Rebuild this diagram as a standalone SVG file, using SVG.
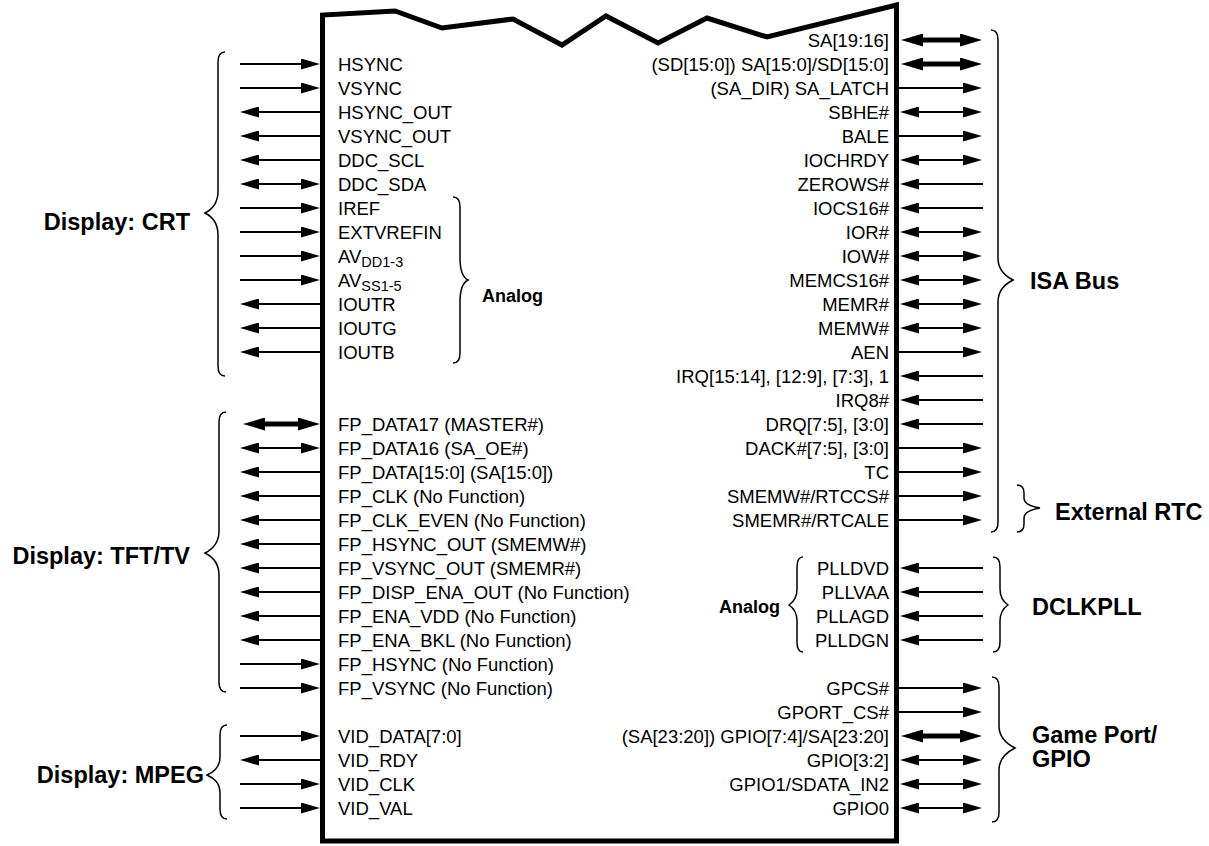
<svg xmlns="http://www.w3.org/2000/svg" width="1209" height="846" viewBox="0 0 1209 846">
<style>
text{font-family:"Liberation Sans",Arial,sans-serif;fill:#000}
.p{font-size:18.5px}
.r{text-anchor:end}
.b{font-size:23.5px;font-weight:bold}
.ba{font-size:18px;font-weight:bold}
.c{stroke:#000;stroke-width:2;fill:none}
.e{marker-end:url(#a)}
.s{marker-start:url(#a)}
.t{stroke:#000;stroke-width:5;fill:none;marker-start:url(#A);marker-end:url(#A)}
.br{stroke:#000;stroke-width:1.5;fill:none}
</style>
<defs>
<marker id="a" markerUnits="userSpaceOnUse" markerWidth="19" markerHeight="11" refX="13" refY="5.5" orient="auto-start-reverse" viewBox="0 0 19 11"><path d="M0,0L19,5.5L0,11z" fill="#000"/></marker>
<marker id="A" markerUnits="userSpaceOnUse" markerWidth="22" markerHeight="13" refX="11" refY="6.5" orient="auto-start-reverse" viewBox="0 0 22 13"><path d="M0,0L22,6.5L0,13z" fill="#000"/></marker>
</defs>
<rect width="1209" height="846" fill="#fff"/>
<g id="chip">
<path d="M322.5,841 L322.5,15 L395,11 L442,28 L513,19 L562,45 L606,16 L658,43 L707,18 L767,37 L896.5,5 L896.5,841 Z" fill="none" stroke="#000" stroke-width="5" stroke-linejoin="miter"/>
<g class="p">
<text x="338" y="70.5">HSYNC</text>
<text x="338" y="94.5">VSYNC</text>
<text x="338" y="118.5">HSYNC_OUT</text>
<text x="338" y="142.5">VSYNC_OUT</text>
<text x="338" y="166.5">DDC_SCL</text>
<text x="338" y="190.5">DDC_SDA</text>
<text x="338" y="214.5">IREF</text>
<text x="338" y="238.5">EXTVREFIN</text>
<text x="338" y="262.5">AV<tspan font-size="14.5" dy="4">DD1-3</tspan></text>
<text x="338" y="286.5">AV<tspan font-size="14.5" dy="4">SS1-5</tspan></text>
<text x="338" y="310.5">IOUTR</text>
<text x="338" y="334.5">IOUTG</text>
<text x="338" y="358.5">IOUTB</text>
<text x="338" y="430.5">FP_DATA17 (MASTER#)</text>
<text x="338" y="454.5">FP_DATA16 (SA_OE#)</text>
<text x="338" y="478.5">FP_DATA[15:0] (SA[15:0])</text>
<text x="338" y="502.5">FP_CLK (No Function)</text>
<text x="338" y="526.5">FP_CLK_EVEN (No Function)</text>
<text x="338" y="550.5">FP_HSYNC_OUT (SMEMW#)</text>
<text x="338" y="574.5">FP_VSYNC_OUT (SMEMR#)</text>
<text x="338" y="598.5">FP_DISP_ENA_OUT (No Function)</text>
<text x="338" y="622.5">FP_ENA_VDD (No Function)</text>
<text x="338" y="646.5">FP_ENA_BKL (No Function)</text>
<text x="338" y="670.5">FP_HSYNC (No Function)</text>
<text x="338" y="694.5">FP_VSYNC (No Function)</text>
<text x="338" y="742.5">VID_DATA[7:0]</text>
<text x="338" y="766.5">VID_RDY</text>
<text x="338" y="790.5">VID_CLK</text>
<text x="338" y="814.5">VID_VAL</text>
</g>
<g class="p r">
<text x="889" y="46.5">SA[19:16]</text>
<text x="889" y="70.5">(SD[15:0]) SA[15:0]/SD[15:0]</text>
<text x="889" y="94.5">(SA_DIR) SA_LATCH</text>
<text x="889" y="118.5">SBHE#</text>
<text x="889" y="142.5">BALE</text>
<text x="889" y="166.5">IOCHRDY</text>
<text x="889" y="190.5">ZEROWS#</text>
<text x="889" y="214.5">IOCS16#</text>
<text x="889" y="238.5">IOR#</text>
<text x="889" y="262.5">IOW#</text>
<text x="889" y="286.5">MEMCS16#</text>
<text x="889" y="310.5">MEMR#</text>
<text x="889" y="334.5">MEMW#</text>
<text x="889" y="358.5">AEN</text>
<text x="889" y="382.5">IRQ[15:14], [12:9], [7:3], 1</text>
<text x="889" y="406.5">IRQ8#</text>
<text x="889" y="430.5">DRQ[7:5], [3:0]</text>
<text x="889" y="454.5">DACK#[7:5], [3:0]</text>
<text x="889" y="478.5">TC</text>
<text x="889" y="502.5">SMEMW#/RTCCS#</text>
<text x="889" y="526.5">SMEMR#/RTCALE</text>
<text x="889" y="574.5">PLLDVD</text>
<text x="889" y="598.5">PLLVAA</text>
<text x="889" y="622.5">PLLAGD</text>
<text x="889" y="646.5">PLLDGN</text>
<text x="889" y="694.5">GPCS#</text>
<text x="889" y="718.5">GPORT_CS#</text>
<text x="889" y="742.5">(SA[23:20]) GPIO[7:4]/SA[23:20]</text>
<text x="889" y="766.5">GPIO[3:2]</text>
<text x="889" y="790.5">GPIO1/SDATA_IN2</text>
<text x="889" y="814.5">GPIO0</text>
</g>
</g>
<g id="group-crt">
<path class="br" d="M225,52 Q218,52 218,62 L218,191 C218,205 209,211 205,213 C209,215 218,221 218,235 L218,366 Q218,376 225,376"/>
<text class="b r" x="190" y="230">Display: CRT</text>
</g>
<g id="group-analog-left">
<path class="br" d="M453,197 Q460,197 460,207 L460,258 C460,272 464,278 468,280 C464,282 460,288 460,302 L460,353 Q460,363 453,363"/>
<text class="ba" x="482" y="301.5">Analog</text>
</g>
<g id="group-tft">
<path class="br" d="M226,412 Q219,412 219,422 L219,531 C219,545 209,551 205,553 C209,555 219,561 219,575 L219,682 Q219,692 226,692"/>
<text class="b r" x="190" y="564">Display: TFT/TV</text>
</g>
<g id="group-mpeg">
<path class="br" d="M227,725 Q220,725 220,735 L220,757 C220,769 211,773 207,775 C211,777 220,781 220,793 L220,809 Q220,819 227,819"/>
<text class="b r" x="204" y="783">Display: MPEG</text>
</g>
<g id="group-isa">
<path class="br" d="M991,30 Q998,30 998,40 L998,258 C998,272 1009,278 1013,280 C1009,282 998,288 998,302 L998,522 Q998,532 991,532"/>
<text class="b" x="1030" y="289">ISA Bus</text>
</g>
<g id="group-rtc">
<path class="br" d="M1017,485 Q1024,485 1024,493 L1024,498 C1024,505 1034,507 1040,508 C1034,509 1024,511 1024,518 L1024,524 Q1024,532 1017,532"/>
<text class="b" x="1055" y="520">External RTC</text>
</g>
<g id="group-dclkpll">
<path class="br" d="M993,557 Q1000,557 1000,567 L1000,589 C1000,599 1005,603 1008,605 C1005,607 1000,611 1000,621 L1000,642 Q1000,652 993,652"/>
<text class="b" x="1032" y="615">DCLKPLL</text>
</g>
<g id="group-analog-right">
<path class="br" d="M803,557 Q797,557 797,567 L797,589 C797,599 792,603 789,605 C792,607 797,611 797,621 L797,642 Q797,652 803,652"/>
<text class="ba r" x="780" y="613">Analog</text>
</g>
<g id="group-gameport">
<path class="br" d="M992,677 Q999,677 999,687 L999,726 C999,740 1011,746 1015,748 C1011,750 999,756 999,770 L999,812 Q999,822 992,822"/>
<text class="b" x="1032" y="743">Game Port/</text>
<text class="b" x="1032" y="767">GPIO</text>
</g>
<g id="connectors">
<line class="c e" x1="240" y1="64" x2="314" y2="64"/>
<line class="c e" x1="240" y1="88" x2="314" y2="88"/>
<line class="c e" x1="322" y1="112" x2="246" y2="112"/>
<line class="c e" x1="322" y1="136" x2="246" y2="136"/>
<line class="c e" x1="322" y1="160" x2="246" y2="160"/>
<line class="c e s" x1="246" y1="184" x2="314" y2="184"/>
<line class="c e" x1="240" y1="208" x2="314" y2="208"/>
<line class="c e" x1="240" y1="232" x2="314" y2="232"/>
<line class="c e" x1="240" y1="256" x2="314" y2="256"/>
<line class="c e" x1="240" y1="280" x2="314" y2="280"/>
<line class="c e" x1="322" y1="304" x2="246" y2="304"/>
<line class="c e" x1="322" y1="328" x2="246" y2="328"/>
<line class="c e" x1="322" y1="352" x2="246" y2="352"/>
<line class="t" x1="254" y1="424" x2="309" y2="424"/>
<line class="c e s" x1="246" y1="448" x2="314" y2="448"/>
<line class="c e" x1="322" y1="472" x2="246" y2="472"/>
<line class="c e" x1="322" y1="496" x2="246" y2="496"/>
<line class="c e" x1="322" y1="520" x2="246" y2="520"/>
<line class="c e" x1="322" y1="544" x2="246" y2="544"/>
<line class="c e" x1="322" y1="568" x2="246" y2="568"/>
<line class="c e" x1="322" y1="592" x2="246" y2="592"/>
<line class="c e" x1="322" y1="616" x2="246" y2="616"/>
<line class="c e" x1="322" y1="640" x2="246" y2="640"/>
<line class="c e" x1="240" y1="664" x2="314" y2="664"/>
<line class="c e" x1="240" y1="688" x2="314" y2="688"/>
<line class="c e" x1="240" y1="736" x2="314" y2="736" stroke-width="3"/>
<line class="c e" x1="322" y1="760" x2="246" y2="760"/>
<line class="c e" x1="240" y1="784" x2="314" y2="784"/>
<line class="c e" x1="240" y1="808" x2="314" y2="808"/>
<line class="t" x1="912" y1="40" x2="971" y2="40"/>
<line class="t" x1="912" y1="64" x2="971" y2="64"/>
<line class="c e" x1="899" y1="88" x2="976" y2="88"/>
<line class="c e s" x1="906" y1="112" x2="976" y2="112"/>
<line class="c e" x1="899" y1="136" x2="976" y2="136"/>
<line class="c e s" x1="906" y1="160" x2="976" y2="160"/>
<line class="c e" x1="983" y1="184" x2="906" y2="184"/>
<line class="c e" x1="983" y1="208" x2="906" y2="208"/>
<line class="c e s" x1="906" y1="232" x2="976" y2="232"/>
<line class="c e s" x1="906" y1="256" x2="976" y2="256"/>
<line class="c e s" x1="906" y1="280" x2="976" y2="280"/>
<line class="c e s" x1="906" y1="304" x2="976" y2="304"/>
<line class="c e s" x1="906" y1="328" x2="976" y2="328"/>
<line class="c e" x1="899" y1="352" x2="976" y2="352"/>
<line class="c e" x1="983" y1="376" x2="906" y2="376"/>
<line class="c e" x1="983" y1="400" x2="906" y2="400"/>
<line class="c e" x1="983" y1="424" x2="906" y2="424"/>
<line class="c e" x1="899" y1="448" x2="976" y2="448"/>
<line class="c e" x1="899" y1="472" x2="976" y2="472"/>
<line class="c e" x1="899" y1="496" x2="976" y2="496"/>
<line class="c e" x1="899" y1="520" x2="976" y2="520"/>
<line class="c e" x1="983" y1="568" x2="906" y2="568"/>
<line class="c e" x1="983" y1="592" x2="906" y2="592"/>
<line class="c e" x1="983" y1="616" x2="906" y2="616"/>
<line class="c e" x1="983" y1="640" x2="906" y2="640"/>
<line class="c e" x1="899" y1="688" x2="976" y2="688"/>
<line class="c e" x1="899" y1="712" x2="976" y2="712"/>
<line class="t" x1="912" y1="736" x2="971" y2="736"/>
<line class="c e s" x1="906" y1="760" x2="976" y2="760"/>
<line class="c e s" x1="906" y1="784" x2="976" y2="784"/>
<line class="c e s" x1="906" y1="808" x2="976" y2="808"/>
</g>
</svg>
